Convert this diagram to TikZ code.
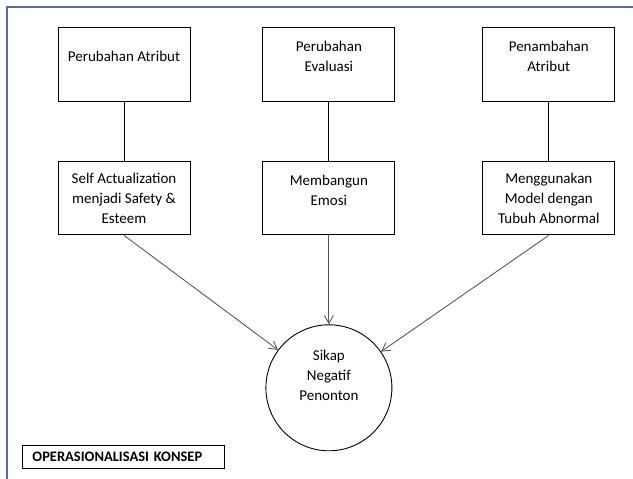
\documentclass[tikz,border=0pt]{standalone}
\usepackage{fontspec}
\setmainfont{Carlito}
\usepackage{tikz}
\usetikzlibrary{arrows.meta, positioning}
\definecolor{framecol}{HTML}{4F6F9A}
\definecolor{arrowgray}{HTML}{595959}

\begin{document}
\begin{tikzpicture}[x=1pt, y=-1pt, >={Straight Barb[length=8pt,width=9pt]}, font=\fontsize{15}{20}\selectfont]
        \tikzstyle{block} = [rectangle, draw=black, fill=white, minimum width=132pt, minimum height=74pt, align=center, line width=0.9pt, inner sep=2pt]
        \tikzstyle{lifted} = [text depth=15pt]
        \tikzstyle{result} = [circle, draw=black, fill=white, minimum size=126pt, align=center, line width=0.9pt, text depth=25pt]
        \tikzstyle{caption} = [rectangle, draw=black, text width=182pt, inner xsep=10pt, minimum height=23pt, align=left, line width=0.9pt, font=\fontsize{14.5}{16}\selectfont\bfseries]

        \useasboundingbox (0,0) rectangle (633,479);
        \draw [framecol, line width=1.2pt] (633,7) -- (7,7) -- (7,479);

        \node [block, lifted] (atribut) at (124,64) {Perubahan Atribut};
        \node [block, lifted, right=72pt of atribut] (evaluasi) {Perubahan\\Evaluasi};
        \node [block, lifted, right=87pt of evaluasi] (tambah) {Penambahan\\Atribut};
        \node [block, minimum height=73pt, below=60pt of atribut] (esteem) {Self Actualization\\menjadi Safety \&\\Esteem};
        \node [block, lifted, text depth=17pt, minimum height=73pt, below=60pt of evaluasi] (emosi) {Membangun\\Emosi};
        \node [block, minimum height=73pt, below=60pt of tambah] (abnormal) {Menggunakan\\Model dengan\\Tubuh Abnormal};
        \node [result, below=89pt of emosi] (sikap) {Sikap\\Negatif\\Penonton};
        \node [caption, anchor=west] (konsep) at (22,456.5) {OPERASIONALISASI KONSEP};

        \path [draw, line width=0.9pt] (atribut) -- (esteem);
        \path [draw, line width=0.9pt] (evaluasi) -- (emosi);
        \path [draw, line width=0.9pt] (tambah) -- (abnormal);
        \path [draw, ->, line width=0.9pt, color=arrowgray] (esteem.south) -- (sikap);
        \path [draw, ->, line width=0.9pt, color=arrowgray] (emosi) -- (sikap);
        \path [draw, ->, line width=0.9pt, color=arrowgray] (abnormal.south) -- (sikap);
    \end{tikzpicture}
\end{document}
